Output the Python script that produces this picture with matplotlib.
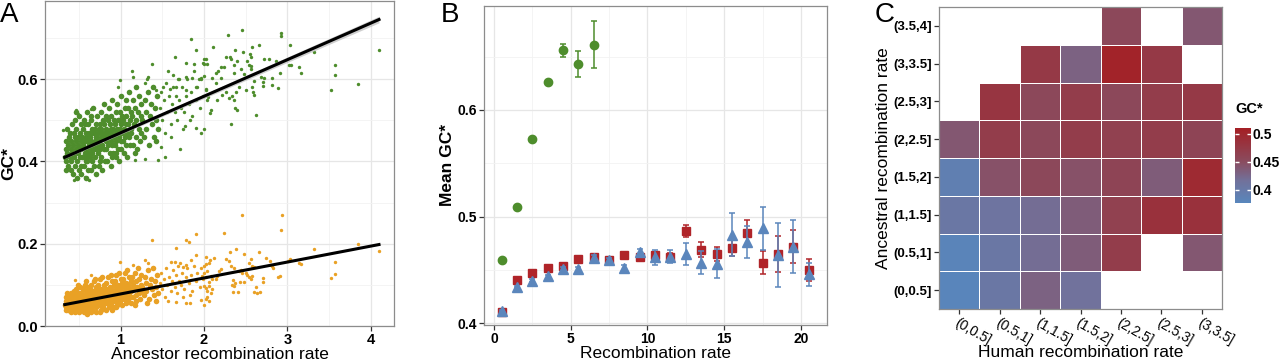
import numpy as np
import matplotlib
matplotlib.use("Agg")
import matplotlib.pyplot as plt
from matplotlib.colors import LinearSegmentedColormap

plt.rcParams['font.family'] = ['Liberation Sans', 'DejaVu Sans']

# ---------------- Panel A data ----------------
green_core = [
 (0.33,0.41),(0.34,0.43),(0.35,0.40),(0.35,0.45),(0.36,0.42),(0.37,0.44),(0.37,0.39),(0.38,0.46),(0.39,0.47),(0.39,0.41),
 (0.40,0.43),(0.41,0.38),(0.41,0.45),(0.42,0.49),(0.42,0.42),(0.34,0.38),(0.36,0.48),(0.40,0.40),
 (0.43,0.37),(0.43,0.44),(0.44,0.41),(0.44,0.47),(0.45,0.50),(0.45,0.39),(0.46,0.43),(0.46,0.45),(0.47,0.42),(0.47,0.48),
 (0.48,0.36),(0.48,0.40),(0.49,0.44),(0.49,0.46),(0.50,0.38),(0.50,0.43),(0.50,0.51),(0.51,0.41),(0.51,0.47),(0.52,0.45),
 (0.52,0.39),(0.52,0.49),(0.47,0.52),(0.45,0.46),(0.49,0.42),
 (0.53,0.37),(0.53,0.43),(0.54,0.46),(0.54,0.41),(0.55,0.48),(0.55,0.44),(0.56,0.39),(0.56,0.50),(0.57,0.42),(0.57,0.45),
 (0.58,0.36),(0.58,0.47),(0.59,0.43),(0.59,0.40),(0.60,0.52),(0.60,0.45),(0.61,0.38),(0.61,0.42),(0.62,0.47),(0.62,0.44),
 (0.55,0.41),(0.57,0.49),(0.59,0.46),(0.61,0.49),(0.58,0.41),(0.60,0.40),
 (0.63,0.41),(0.63,0.46),(0.64,0.43),(0.64,0.50),(0.65,0.38),(0.65,0.45),(0.66,0.48),(0.66,0.42),(0.67,0.44),(0.67,0.53),
 (0.68,0.39),(0.68,0.47),(0.69,0.41),(0.69,0.45),(0.70,0.49),(0.70,0.43),(0.71,0.37),(0.71,0.46),(0.72,0.51),(0.72,0.44),
 (0.64,0.47),(0.66,0.40),(0.68,0.43),(0.70,0.46),(0.65,0.51),(0.69,0.48),
 (0.73,0.42),(0.73,0.47),(0.74,0.39),(0.74,0.45),(0.75,0.49),(0.75,0.43),(0.76,0.46),(0.76,0.52),(0.77,0.41),(0.77,0.48),
 (0.78,0.44),(0.78,0.38),(0.79,0.50),(0.79,0.46),(0.80,0.43),(0.80,0.54),(0.81,0.47),(0.81,0.40),(0.82,0.45),(0.82,0.51),
 (0.74,0.48),(0.76,0.44),(0.78,0.47),(0.80,0.49),(0.75,0.40),
 (0.83,0.43),(0.83,0.48),(0.84,0.46),(0.84,0.40),(0.85,0.50),(0.85,0.44),(0.86,0.47),(0.86,0.53),(0.87,0.42),(0.87,0.49),
 (0.88,0.45),(0.88,0.39),(0.89,0.51),(0.89,0.47),(0.90,0.44),(0.90,0.55),(0.91,0.48),(0.91,0.42),(0.92,0.46),(0.92,0.50),
 (0.85,0.47),(0.88,0.48),(0.90,0.41),
 (0.93,0.44),(0.93,0.49),(0.94,0.47),(0.94,0.41),(0.95,0.52),(0.95,0.45),(0.96,0.48),(0.96,0.54),(0.97,0.43),(0.97,0.50),
 (0.98,0.46),(0.98,0.40),(0.99,0.52),(0.99,0.48),(1.00,0.45),(1.00,0.56),(1.01,0.49),(1.01,0.43),(1.02,0.47),(1.02,0.51),
 (0.95,0.42),(0.98,0.50),
 (1.03,0.45),(1.03,0.50),(1.04,0.48),(1.04,0.42),(1.05,0.53),(1.05,0.46),(1.06,0.49),(1.06,0.55),(1.07,0.44),(1.07,0.51),
 (1.08,0.47),(1.08,0.41),(1.09,0.53),(1.09,0.49),(1.10,0.46),(1.10,0.57),(1.11,0.50),(1.11,0.44),(1.12,0.48),(1.12,0.52),
 (1.13,0.47),(1.14,0.51),(1.15,0.44),(1.15,0.55),(1.16,0.49),(1.17,0.53),(1.18,0.46),(1.18,0.58),(1.19,0.50),(1.20,0.43),
 (1.21,0.52),(1.22,0.48),(1.22,0.56),(1.23,0.45),(1.24,0.51),(1.25,0.54),(1.25,0.47),(1.17,0.42),
 (1.26,0.50),(1.28,0.46),(1.29,0.55),(1.30,0.52),(1.31,0.48),(1.33,0.57),(1.34,0.44),(1.35,0.51),(1.36,0.54),(1.38,0.49),
 (1.39,0.58),(1.40,0.46),(1.41,0.53),(1.43,0.50),(1.44,0.56),(1.45,0.48),(1.42,0.45),
]

green_sparse = [
 (1.32,0.60),
 (1.47,0.53),(1.48,0.57),(1.50,0.50),(1.52,0.55),(1.53,0.47),(1.55,0.59),(1.56,0.52),(1.58,0.56),(1.60,0.49),(1.62,0.54),
 (1.63,0.58),(1.65,0.52),(1.67,0.56),(1.68,0.50),(1.70,0.55),(1.69,0.60),(1.57,0.62),(1.61,0.46),
 (1.72,0.53),(1.74,0.58),(1.76,0.52),(1.78,0.56),(1.80,0.60),(1.82,0.54),(1.84,0.57),(1.86,0.51),(1.88,0.62),(1.90,0.55),
 (1.92,0.58),(1.95,0.53),(1.97,0.60),(1.99,0.56),(1.75,0.48),(1.83,0.50),
 (2.29,0.708),(2.46,0.719),(2.11,0.678),(2.93,0.712),(2.92,0.705),(2.66,0.684),(3.03,0.684),(3.32,0.665),(4.10,0.672),
 (3.57,0.634),(3.57,0.609),(3.85,0.589),(3.52,0.574),(3.17,0.615),(3.14,0.629),(3.02,0.634),(3.05,0.634),(2.91,0.616),
 (2.89,0.578),(2.82,0.587),(2.71,0.592),(2.71,0.584),(2.63,0.514),(2.32,0.492),(2.60,0.561),(2.59,0.569),(2.58,0.58),
 (2.47,0.667),(2.55,0.66),(2.57,0.654),(2.58,0.678),(2.37,0.671),(2.78,0.65),(2.72,0.648),(2.86,0.643),(2.82,0.604),
 (2.52,0.643),(2.54,0.634),(2.56,0.632),(2.40,0.643),(2.36,0.634),(2.31,0.654),(2.32,0.648),(2.26,0.654),(2.24,0.63),
 (2.20,0.63),(2.17,0.62),(2.44,0.624),(2.48,0.612),(2.36,0.616),(2.42,0.58),(2.50,0.574),(2.39,0.569),(2.36,0.55),
 (2.40,0.525),(2.37,0.53),(2.30,0.555),(2.34,0.558),(2.27,0.569),(2.22,0.561),(2.16,0.55),(2.08,0.525),(2.07,0.518),
 (2.04,0.55),(2.05,0.557),(2.02,0.574),(2.00,0.478),(1.96,0.47),(2.72,0.602),(2.68,0.606),(2.56,0.624),(2.60,0.595),
 (2.20,0.604),(2.14,0.59),(2.10,0.604),(2.14,0.615),(2.00,0.637),(2.04,0.637),(2.02,0.649),(2.00,0.608),(1.96,0.604),
 (1.84,0.698),(1.91,0.670),(1.38,0.636),(1.65,0.654),(1.78,0.640),(1.88,0.638),(1.99,0.640),(2.00,0.648),(1.14,0.621),
 (1.15,0.605),(1.29,0.590),(1.33,0.605),(0.99,0.597),(0.97,0.581),(1.63,0.61),(1.70,0.60),(1.78,0.605),(1.86,0.603),
 (1.94,0.60),(1.51,0.581),(1.43,0.573),(1.59,0.577),(1.67,0.581),(1.79,0.573),(1.91,0.581),(2.03,0.577),(1.77,0.487),
 (1.91,0.481),(1.71,0.431),(1.53,0.411),(1.45,0.403),(1.29,0.406),(1.17,0.403),(1.49,0.435),(0.47,0.524),(0.49,0.516),
 (0.65,0.528),(0.31,0.476),(0.57,0.362),(0.51,0.370),(0.62,0.355),(0.44,0.355),
]

orange_core = [
 (0.33,0.05),(0.34,0.06),(0.35,0.045),(0.35,0.07),(0.36,0.055),(0.37,0.065),(0.37,0.04),(0.38,0.075),(0.39,0.05),(0.39,0.06),
 (0.40,0.07),(0.41,0.045),(0.41,0.08),(0.42,0.055),(0.42,0.065),(0.34,0.04),(0.36,0.08),(0.40,0.035),
 (0.43,0.04),(0.43,0.07),(0.44,0.05),(0.44,0.085),(0.45,0.06),(0.45,0.035),(0.46,0.075),(0.46,0.055),(0.47,0.045),(0.47,0.09),
 (0.48,0.065),(0.48,0.04),(0.49,0.07),(0.49,0.05),(0.50,0.08),(0.50,0.06),(0.50,0.035),(0.51,0.095),(0.51,0.055),(0.52,0.045),
 (0.52,0.075),(0.52,0.065),(0.47,0.065),(0.45,0.08),(0.49,0.10),
 (0.53,0.05),(0.53,0.08),(0.54,0.06),(0.54,0.04),(0.55,0.09),(0.55,0.07),(0.56,0.035),(0.56,0.055),(0.57,0.075),(0.57,0.10),
 (0.58,0.045),(0.58,0.065),(0.59,0.085),(0.59,0.05),(0.60,0.07),(0.60,0.04),(0.61,0.06),(0.61,0.095),(0.62,0.08),(0.62,0.05),
 (0.55,0.05),(0.57,0.06),(0.59,0.065),(0.61,0.075),(0.58,0.11),(0.60,0.03),
 (0.63,0.06),(0.63,0.09),(0.64,0.045),(0.64,0.075),(0.65,0.055),(0.65,0.10),(0.66,0.065),(0.66,0.04),(0.67,0.085),(0.67,0.07),
 (0.68,0.05),(0.68,0.11),(0.69,0.06),(0.69,0.08),(0.70,0.045),(0.70,0.095),(0.71,0.07),(0.71,0.035),(0.72,0.055),(0.72,0.085),
 (0.64,0.065),(0.66,0.08),(0.68,0.075),(0.70,0.06),(0.65,0.035),(0.69,0.115),
 (0.73,0.065),(0.73,0.10),(0.74,0.05),(0.74,0.08),(0.75,0.06),(0.75,0.115),(0.76,0.07),(0.76,0.04),(0.77,0.09),(0.77,0.055),
 (0.78,0.075),(0.78,0.12),(0.79,0.045),(0.79,0.085),(0.80,0.065),(0.80,0.10),(0.81,0.055),(0.81,0.075),(0.82,0.09),(0.82,0.04),
 (0.74,0.09),(0.76,0.06),(0.78,0.065),(0.80,0.08),(0.75,0.035),
 (0.83,0.07),(0.83,0.105),(0.84,0.055),(0.84,0.085),(0.85,0.065),(0.85,0.12),(0.86,0.075),(0.86,0.045),(0.87,0.095),(0.87,0.06),
 (0.88,0.08),(0.88,0.125),(0.89,0.05),(0.89,0.09),(0.90,0.07),(0.90,0.11),(0.91,0.06),(0.91,0.08),(0.92,0.10),(0.92,0.045),
 (0.85,0.09),(0.88,0.065),(0.90,0.04),
 (0.93,0.075),(0.93,0.11),(0.94,0.06),(0.94,0.09),(0.95,0.07),(0.95,0.125),(0.96,0.08),(0.96,0.05),(0.97,0.10),(0.97,0.065),
 (0.98,0.085),(0.98,0.13),(0.99,0.055),(0.99,0.095),(1.00,0.075),(1.00,0.115),(1.01,0.065),(1.01,0.085),(1.02,0.105),(1.02,0.05),
 (0.95,0.045),(0.98,0.07),
 (1.03,0.08),(1.03,0.115),(1.04,0.065),(1.04,0.095),(1.05,0.075),(1.05,0.13),(1.06,0.085),(1.06,0.055),(1.07,0.105),(1.07,0.07),
 (1.08,0.09),(1.08,0.135),(1.09,0.06),(1.09,0.10),(1.10,0.08),(1.10,0.12),(1.11,0.07),(1.11,0.09),(1.12,0.11),(1.12,0.055),
 (1.13,0.085),(1.14,0.12),(1.15,0.07),(1.15,0.10),(1.16,0.09),(1.17,0.13),(1.18,0.075),(1.18,0.11),(1.19,0.06),(1.20,0.095),
 (1.21,0.14),(1.22,0.08),(1.22,0.115),(1.23,0.065),(1.24,0.10),(1.25,0.125),(1.25,0.085),(1.17,0.05),
 (1.26,0.095),(1.28,0.075),(1.29,0.12),(1.30,0.105),(1.31,0.085),(1.33,0.135),(1.34,0.065),(1.35,0.10),(1.36,0.115),(1.38,0.09),
 (1.39,0.14),(1.40,0.075),(1.41,0.11),(1.43,0.095),(1.44,0.125),(1.45,0.08),(1.32,0.055),(1.42,0.06),
]

orange_sparse = [
 (1.47,0.105),(1.48,0.13),(1.50,0.09),(1.52,0.115),(1.53,0.07),(1.55,0.14),(1.56,0.10),(1.58,0.12),(1.60,0.085),(1.62,0.11),
 (1.63,0.135),(1.65,0.095),(1.67,0.125),(1.68,0.08),(1.70,0.11),(1.69,0.145),(1.57,0.06),(1.61,0.155),
 (1.72,0.10),(1.74,0.13),(1.76,0.09),(1.78,0.12),(1.80,0.14),(1.82,0.105),(1.84,0.125),(1.86,0.085),(1.88,0.145),(1.90,0.11),
 (1.92,0.13),(1.95,0.095),(1.97,0.14),(1.99,0.115),(1.75,0.07),(1.83,0.075),
 (1.38,0.21),(1.91,0.223),(1.78,0.21),(1.82,0.205),(1.67,0.19),(0.99,0.156),(1.15,0.148),(1.29,0.160),(1.33,0.152),
 (1.65,0.156),(1.71,0.152),(1.75,0.144),(1.79,0.148),(1.85,0.160),(1.91,0.172),(2.03,0.168),(2.07,0.160),(1.67,0.059),
 (1.79,0.055),(1.83,0.055),(1.96,0.063),(2.04,0.071),(0.65,0.124),(0.45,0.112),
 (2.46,0.269),(2.94,0.269),(2.93,0.233),(2.24,0.227),(3.85,0.200),(4.10,0.183),(3.32,0.188),(3.57,0.155),(3.57,0.126),
 (3.52,0.116),(3.03,0.162),(3.01,0.159),(3.14,0.153),(3.16,0.151),(2.66,0.179),(2.75,0.165),(2.79,0.158),(2.80,0.149),
 (2.82,0.145),(2.83,0.140),(2.91,0.122),(2.89,0.118),(2.71,0.116),(2.71,0.108),(2.62,0.095),(2.60,0.083),(2.64,0.081),
 (2.67,0.083),(2.56,0.162),(2.54,0.154),(2.58,0.146),(2.60,0.144),(2.38,0.187),(2.31,0.180),(2.48,0.176),(2.26,0.162),
 (2.30,0.158),(2.32,0.146),(2.36,0.142),(2.42,0.134),(2.44,0.137),(2.46,0.130),(2.50,0.129),(2.52,0.124),(2.56,0.115),
 (2.54,0.118),(2.58,0.121),(2.12,0.165),(2.20,0.138),(2.18,0.134),(2.16,0.122),(2.14,0.115),(2.35,0.113),(2.37,0.105),
 (2.34,0.100),(2.36,0.097),(2.41,0.083),(2.35,0.082),(2.43,0.107),(2.48,0.107),(2.00,0.146),(2.02,0.150),(2.06,0.154),
 (2.04,0.134),(2.00,0.130),(1.98,0.122),(2.02,0.118),(2.08,0.122),(2.10,0.114),(2.06,0.107),(2.00,0.097),(2.02,0.093),
 (2.06,0.097),(2.10,0.089),(2.04,0.085),(2.08,0.081),(2.02,0.065),(2.06,0.061),(2.00,0.050),
]

fit_x = [0.33, 4.10]
fit_green = [0.410, 0.745]
fit_green_se = [0.003, 0.008]
fit_orange = [0.052, 0.198]

# ---------------- Panel B data ----------------
b_green_x = [0.5, 1.5, 2.5, 3.5, 4.5, 5.5, 6.5]
b_green_y = [0.459, 0.509, 0.573, 0.626, 0.656, 0.643, 0.661]
b_green_err = [0.001, 0.001, 0.001, 0.002, 0.006, 0.0125, 0.022]

b_x = [0.5, 1.5, 2.5, 3.5, 4.5, 5.5, 6.5, 7.5, 8.5, 9.5, 10.5, 11.5, 12.5, 13.5, 14.5,
       15.5, 16.5, 17.5, 18.5, 19.5, 20.5]
b_red_y = [0.411, 0.441, 0.447, 0.452, 0.454, 0.460, 0.462, 0.459, 0.464, 0.462, 0.464,
           0.4625, 0.4866, 0.469, 0.465, 0.471, 0.485, 0.457, 0.465, 0.472, 0.450]
b_red_err = [0.001, 0.0015, 0.0015, 0.002, 0.002, 0.002, 0.002, 0.002, 0.002, 0.002, 0.003,
             0.003, 0.006, 0.007, 0.007, 0.008, 0.012, 0.0105, 0.017, 0.0156, 0.0106]
b_blue_y = [0.4116, 0.434, 0.440, 0.444, 0.4506, 0.4506, 0.4616, 0.459, 0.452, 0.467, 0.462,
            0.4625, 0.465, 0.457, 0.456, 0.483, 0.476, 0.489, 0.464, 0.472, 0.446]
b_blue_err = [0.001, 0.001, 0.0015, 0.0015, 0.002, 0.002, 0.002, 0.002, 0.003, 0.003, 0.007,
              0.006, 0.010, 0.011, 0.014, 0.020, 0.015, 0.020, 0.030, 0.025, 0.011]

# ---------------- Panel C data ----------------
human_bins = ['(0,0.5]', '(0.5,1]', '(1,1.5]', '(1.5,2]', '(2,2.5]', '(2.5,3]', '(3,3.5]']
anc_bins = ['(0,0.5]', '(0.5,1]', '(1,1.5]', '(1.5,2]', '(2,2.5]', '(2.5,3]', '(3,3.5]', '(3.5,4]']
nan = np.nan
gc_grid = [  # rows = ancestral bins (bottom to top), cols = human bins
    [0.378, 0.405, 0.430, 0.415, nan,   nan,   nan],
    [0.380, 0.405, 0.420, 0.435, 0.470, nan,   0.440],
    [0.405, 0.410, 0.420, 0.435, 0.465, 0.485, 0.485],
    [0.390, 0.445, 0.455, 0.445, 0.460, 0.435, 0.495],
    [0.440, 0.470, 0.455, 0.470, 0.465, 0.470, 0.460],
    [nan,   0.480, 0.455, 0.470, 0.455, 0.470, 0.475],
    [nan,   nan,   0.475, 0.430, 0.505, 0.475, nan],
    [nan,   nan,   nan,   nan,   0.455, nan,   0.440],
]
gc_limits = (0.3765, 0.51)
cbar_ticks = [0.4, 0.45, 0.5]

# ---------------- Styling ----------------
GREEN = '#4E8D2C'
ORANGE = '#E9A125'
RED = '#B02429'
BLUE = '#5B86BC'
GRID_MAJ = '#E6E6E6'
GRID_MIN = '#F2F2F2'
BORDER = '#8C8C8C'

fig = plt.figure(figsize=(12.8, 3.6), dpi=100)


def style_axes(ax, fs):
    for s in ax.spines.values():
        s.set_color(BORDER)
        s.set_linewidth(0.9)
    ax.tick_params(axis='both', which='major', length=3.5, width=0.9, color='#333333',
                   labelsize=fs, pad=1.5)
    for lab in ax.get_xticklabels() + ax.get_yticklabels():
        lab.set_fontweight('bold')
    ax.tick_params(axis='both', which='minor', length=0)
    ax.grid(True, which='major', color=GRID_MAJ, lw=0.9)
    ax.grid(True, which='minor', color=GRID_MIN, lw=0.6)
    ax.set_axisbelow(True)


# ---- Panel A ----
axA = fig.add_axes([45/1280, 34/360, 349/1280, 325/360])
for pts, col, size in [(green_core, GREEN, 16), (green_sparse, GREEN, 6),
                       (orange_core, ORANGE, 16), (orange_sparse, ORANGE, 6)]:
    px, py = zip(*pts)
    axA.scatter(px, py, s=size, color=col, linewidths=0, zorder=2)
fg = np.array(fit_green); fse = np.array(fit_green_se)
axA.fill_between(fit_x, fg - fse, fg + fse, color='#BBBBBB', alpha=0.7, lw=0, zorder=3)
axA.plot(fit_x, fit_green, color='black', lw=2.2, zorder=4)
axA.plot(fit_x, fit_orange, color='black', lw=2.2, zorder=4)
axA.set_xlim(0.093, 4.28)
axA.set_ylim(0.0, 0.79)
axA.set_xticks([1, 2, 3, 4])
axA.set_xticks([0.5, 1.5, 2.5, 3.5], minor=True)
axA.set_yticks([0.0, 0.2, 0.4, 0.6])
axA.set_yticklabels(['0.0', '0.2', '0.4', '0.6'])
axA.set_yticks([0.1, 0.3, 0.5, 0.7], minor=True)
style_axes(axA, 10.5)
axA.set_xlabel('Ancestor recombination rate', fontsize=12.5, labelpad=0)
axA.set_ylabel('GC*', fontsize=12.5, fontweight='bold', labelpad=1)
fig.text(0.0, 1 - 2/360, 'A', fontsize=20, va='top', ha='left')

# ---- Panel B ----
axB = fig.add_axes([484/1280, 35/360, 343/1280, 319/360])
axB.errorbar(b_green_x, b_green_y, yerr=b_green_err, fmt='o', color=GREEN, ms=6,
             capsize=2, elinewidth=1.1, capthick=1.1, zorder=3)
axB.errorbar(b_x, b_red_y, yerr=b_red_err, fmt='s', color=RED, ms=5.5,
             capsize=2, elinewidth=1.1, capthick=1.1, zorder=3)
axB.errorbar(b_x, b_blue_y, yerr=b_blue_err, fmt='^', color=BLUE, ms=7,
             capsize=2, elinewidth=1.1, capthick=1.1, zorder=4)
axB.set_xlim(-0.65, 21.7)
axB.set_ylim(0.3984, 0.6975)
axB.set_xticks([0, 5, 10, 15, 20])
axB.set_xticks([2.5, 7.5, 12.5, 17.5], minor=True)
axB.set_yticks([0.4, 0.5, 0.6])
axB.set_yticks([0.45, 0.55, 0.65], minor=True)
style_axes(axB, 10)
axB.set_xlabel('Recombination rate', fontsize=12.5, labelpad=0)
axB.set_ylabel('Mean GC*', fontsize=12.5, fontweight='bold', labelpad=2)
fig.text(441/1280, 1 - 2/360, 'B', fontsize=20, va='top', ha='left')

# ---- Panel C ----
cmap = LinearSegmentedColormap.from_list(
    'gc', [(0.0, '#5886BC'), (0.3, '#72719A'), (0.55, '#8A4C5F'), (1.0, '#A41F24')])
axC = fig.add_axes([939/1280, 51/360, 283/1280, 302/360])
grid = np.ma.masked_invalid(np.array(gc_grid, dtype=float))
mesh = axC.pcolormesh(np.arange(len(human_bins) + 1), np.arange(len(anc_bins) + 1), grid,
                      cmap=cmap, vmin=gc_limits[0], vmax=gc_limits[1],
                      edgecolors='white', linewidth=0.5)
axC.set_xlim(0, len(human_bins))
axC.set_ylim(0, len(anc_bins))
axC.set_xticks(np.arange(len(human_bins)) + 0.5)
axC.set_xticklabels(human_bins, rotation=-30, ha='left', va='top', rotation_mode='anchor')
axC.set_yticks(np.arange(len(anc_bins)) + 0.5)
axC.set_yticklabels(anc_bins)
for s in axC.spines.values():
    s.set_color(BORDER)
    s.set_linewidth(0.9)
axC.tick_params(axis='both', length=3.5, width=0.9, color='#333333', labelsize=9.5, pad=1.5)
for lab in axC.get_yticklabels():
    lab.set_fontweight('bold')
for lab in axC.get_xticklabels():
    lab.set_fontsize(10)
axC.set_xlabel('Human recombination rate', fontsize=12.5, labelpad=-2)
axC.set_ylabel('Ancestral recombination rate', fontsize=12.5, labelpad=2)
fig.text(875/1280, 1 - 2/360, 'C', fontsize=20, va='top', ha='left')

# colorbar
cax = fig.add_axes([1235/1280, 157/360, 16/1280, 75/360])
cb = fig.colorbar(mesh, cax=cax, ticks=cbar_ticks)
cb.outline.set_visible(False)
cb.ax.set_yticklabels(['0.4', '0.45', '0.5'])
cb.ax.tick_params(color='white', direction='in', length=3, width=1, labelsize=10, pad=1)
cb.ax.tick_params(which='minor', length=0)
cb.ax.yaxis.set_ticks_position('both')
for lab in cb.ax.get_yticklabels():
    lab.set_fontweight('bold')
fig.text(1235/1280, 1 - 116/360, 'GC*', fontsize=10.5, fontweight='bold', va='bottom', ha='left')

fig.savefig('out.png', dpi=100)
